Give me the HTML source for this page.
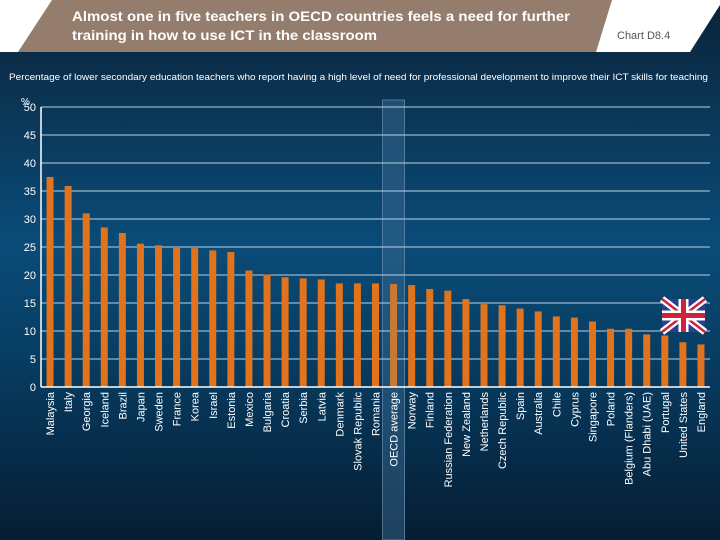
<!DOCTYPE html>
<html><head><meta charset="utf-8"><style>
body{margin:0;width:720px;height:540px;overflow:hidden;font-family:"Liberation Sans",sans-serif}
#bg{position:absolute;left:0;top:0;width:720px;height:540px;background:linear-gradient(180deg,#0b2238 0%,#0b3656 20%,#0a4b78 45%,#073e64 65%,#061d33 100%)}
</style></head><body>
<div id="bg"></div>
<svg width="720" height="540" style="position:absolute;left:0;top:0" id="chart">
<polygon points="0,0 720,0 720,0 690,52 0,52" fill="#ffffff"/>
<polygon points="52,0 700,0 690,0 662,52 18,52" fill="#947d6c"/>
<polygon points="612,0 720,0 720,5 690,52 596,52" fill="#ffffff"/>
<text x="72" y="21" fill="#fff" font-size="14" font-weight="bold" textLength="498" lengthAdjust="spacingAndGlyphs">Almost one in five teachers in OECD countries feels a need for further</text>
<text x="72" y="40" fill="#fff" font-size="14" font-weight="bold" textLength="305" lengthAdjust="spacingAndGlyphs">training in how to use ICT in the classroom</text>
<text x="617" y="39" fill="#555" font-size="11">Chart D8.4</text>
<text x="9" y="80" fill="#fff" font-size="9.5" textLength="699" lengthAdjust="spacingAndGlyphs">Percentage of lower secondary education teachers who report having a high level of need for professional development to improve their ICT skills for teaching</text>
<g id="g"></g>
</svg>
<script>
const categories=["Malaysia","Italy","Georgia","Iceland","Brazil","Japan","Sweden","France","Korea","Israel","Estonia","Mexico","Bulgaria","Croatia","Serbia","Latvia","Denmark","Slovak Republic","Romania","OECD average","Norway","Finland","Russian Federation","New Zealand","Netherlands","Czech Republic","Spain","Australia","Chile","Cyprus","Singapore","Poland","Belgium (Flanders)","Abu Dhabi (UAE)","Portugal","United States","England"];
const values=[37.5,35.9,31,28.5,27.5,25.6,25.3,25,24.8,24.4,24.1,20.8,20.1,19.6,19.4,19.2,18.5,18.5,18.5,18.4,18.2,17.5,17.2,15.7,14.8,14.6,14.0,13.5,12.6,12.4,11.7,10.4,10.4,9.4,9.2,8.0,7.6];
const ticks=[0,5,10,15,20,25,30,35,40,45,50];
const NS="http://www.w3.org/2000/svg",g=document.getElementById('g');
const y0=387,y1=107,ymax=50,x0=41,x1=710;
const y=v=>y0-(v/ymax)*(y0-y1);
const step=(x1-x0)/categories.length;
const xc=i=>x0+step*(i+0.5);
function mk(t,a){const e=document.createElementNS(NS,t);for(const k in a)e.setAttribute(k,a[k]);g.appendChild(e);return e;}
const oi=categories.indexOf("OECD average");
let h=mk('rect',{x:xc(oi)-11,y:100,width:22,height:440,fill:'#3d6d95','fill-opacity':0.45,stroke:'#6a8fb0','stroke-width':0.7});


ticks.forEach(t=>{
 let l=mk('line',{x1:x0,x2:x1,y1:y(t),y2:y(t),stroke:'#b9d3e6','stroke-width':1});
 
 
 let tx=mk('text',{x:36,y:y(t)+4,fill:'#fff','font-size':11,'text-anchor':'end'});tx.textContent=t;
 
 
});
let pct=mk('text',{x:21,y:105,fill:'#fff','font-size':10});pct.textContent='%';


let ax=mk('line',{x1:x0,x2:x0,y1:y1,y2:y0,stroke:'#fff','stroke-width':1.5});


categories.forEach((c,i)=>{
 let b=mk('rect',{x:xc(i)-3.5,y:y(values[i]),width:7,height:y0-y(values[i]),fill:i===oi?'#c97a30':'#e0731c'});
 
 
 let t=mk('text',{x:0,y:0,fill:'#fff','font-size':11,'text-anchor':'end',transform:`translate(${xc(i)+4},392) rotate(-90)`});t.textContent=c;
 
 
});
let bx=mk('line',{x1:x0,x2:x1,y1:y0,y2:y0,stroke:'#fff','stroke-width':1.5});


const fg=document.createElementNS(NS,'g');fg.setAttribute('transform','translate(662,299)');g.appendChild(fg);


fg.innerHTML='<rect width="43" height="33" fill="#2a3f8f"/><path d="M0,0L43,33M43,0L0,33" stroke="#fff" stroke-width="7"/><path d="M0,0L43,33M43,0L0,33" stroke="#d0223a" stroke-width="2.5"/><path d="M21.5,0V33M0,16.5H43" stroke="#fff" stroke-width="10"/><path d="M21.5,0V33M0,16.5H43" stroke="#d0223a" stroke-width="5"/>';
</script>
</body></html>
